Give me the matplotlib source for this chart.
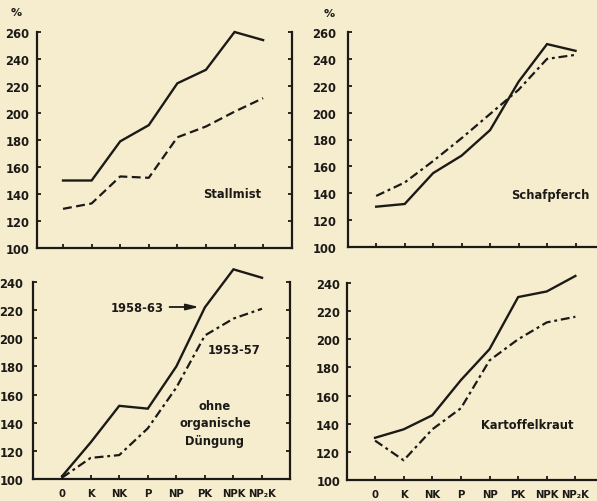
import matplotlib.pyplot as plt

# Ertrag in % (0-Parzelle = 100), 1953-57 vs 1958-63
cats = ['0', 'K', 'NK', 'P', 'NP', 'PK', 'NPK', 'NP\u2082K']

stallmist_new = [150, 150, 179, 191, 222, 232, 260, 254]
stallmist_old = [129, 133, 153, 152, 182, 190, 201, 211]
schaf_new = [130, 132, 155, 168, 187, 223, 251, 246]
schaf_old = [138, 148, 164, 181, 199, 217, 240, 243]
ohne_new = [102, 126, 152, 150, 180, 222, 249, 243]
ohne_old = [101, 115, 117, 136, 165, 202, 214, 221]
kart_new = [130, 136, 146, 171, 193, 230, 234, 245]
kart_old = [128, 114, 136, 151, 185, 200, 212, 216]

W, H = 597, 502
paper = '#f6edcf'
ink = '#1c1a17'
plt.rcParams['font.family'] = 'DejaVu Sans'
plt.rcParams['font.weight'] = 'bold'

fig = plt.figure(figsize=(W / 100, H / 100), dpi=100, facecolor=paper)


def box(x0, x1, ytop, ybot):
    # pixel box -> figure fraction
    return [x0 / W, 1 - ybot / H, (x1 - x0) / W, (ybot - ytop) / H]


def fpos(x, y):
    return x / W, 1 - y / H


def panel(rect, xlim, ylim, yticks, new, old, dash, pad, xlabels, right=True):
    ax = fig.add_axes(rect)
    ax.set_facecolor('none')
    x = range(len(cats))
    ax.plot(x, new, color=ink, lw=1.7, clip_on=False, solid_joinstyle='miter')
    ax.plot(x, old, color=ink, lw=1.6, dashes=dash, clip_on=False)
    ax.set_xlim(*xlim)
    ax.set_ylim(*ylim)
    ax.set_yticks(yticks)
    ax.set_xticks(list(x))
    ax.set_xticklabels(cats if xlabels else [])
    ax.spines['top'].set_visible(False)
    ax.spines['right'].set_visible(right)
    for s in ax.spines.values():
        s.set_linewidth(1.6)
        s.set_color(ink)
    ax.tick_params(axis='both', direction='in', length=3, width=1.3,
                   color=ink, labelcolor=ink, labelsize=8.3)
    ax.tick_params(axis='y', pad=pad, right=right)
    ax.tick_params(axis='x', pad=6.5, labelsize=7.3)
    return ax


top_ticks = list(range(100, 261, 20))
bot_ticks = list(range(100, 241, 20))
dash_plain = (4, 2)
dash_dot = (4, 1.7, 1.3, 1.7)

panel(box(37, 292, 33, 249), (-0.91, 8.01), (100, 260), top_ticks,
      stallmist_new, stallmist_old, dash_plain, 5.5, False)
panel(box(348, 604, 33, 248), (-0.99, 8.0), (100, 260), top_ticks,
      schaf_new, schaf_old, dash_dot, 8.5, False, right=False)
ax3 = panel(box(33, 290, 283, 480), (-1.02, 7.98), (100, 240), bot_ticks,
            ohne_new, ohne_old, dash_dot, 7, True)
panel(box(347, 604, 284, 481), (-0.98, 8.0), (100, 240), bot_ticks,
      kart_new, kart_old, dash_dot, 5, True, right=False)

# "%" over the y axes
fig.text(*fpos(16, 13), '%', ha='center', va='center', fontsize=8, color=ink)
fig.text(*fpos(329, 14), '%', ha='center', va='center', fontsize=8, color=ink)

# panel titles
fig.text(*fpos(232, 195), 'Stallmist', ha='center', va='center', fontsize=8.3, color=ink)
fig.text(*fpos(550, 195), 'Schafpferch', ha='center', va='center', fontsize=8.3, color=ink)
fig.text(*fpos(527, 426), 'Kartoffelkraut', ha='center', va='center', fontsize=8.3, color=ink)
fig.text(*fpos(215, 424), 'ohne\norganische\nDüngung', ha='center', va='center',
         fontsize=8.3, color=ink, linespacing=1.45)

# series labels
ax3.annotate('1958-63', xy=fpos(199, 308), xycoords='figure fraction',
             xytext=fpos(164, 308), textcoords='figure fraction',
             ha='right', va='center', fontsize=8.3, color=ink,
             arrowprops=dict(arrowstyle='-|>,head_length=0.9,head_width=0.22',
                             color=ink, lw=1.3, shrinkA=2, shrinkB=0))
fig.text(*fpos(234, 350), '1953-57', ha='center', va='center', fontsize=8.3, color=ink)

fig.savefig('out.png', dpi=100, facecolor=paper)
